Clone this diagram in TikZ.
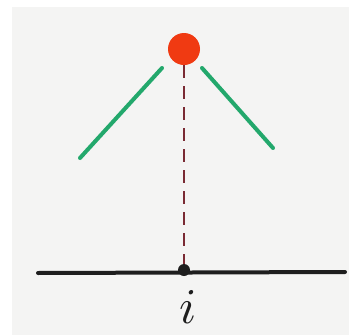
\documentclass[tikz,border=0pt]{standalone}
\usepackage{tikz}
\usetikzlibrary{positioning}
\definecolor{paper}{HTML}{F4F4F3}
\definecolor{bead}{HTML}{F03A12}
\definecolor{arm}{HTML}{23A86C}
\definecolor{drop}{HTML}{7A2A33}
\definecolor{ink}{HTML}{1E1E1E}

\begin{document}
\begin{tikzpicture}[x=1pt,y=-1pt]
  \useasboundingbox (0,0) rectangle (349,335);
  \fill[white] (0,0) rectangle (349,335);
  \fill[paper] (12,7) rectangle (349,335);
  % lattice line and the site below the particle
  \draw[ink,line width=4pt,line cap=round] (38,273)--(345,272);
  \node[circle,fill=ink,inner sep=0pt,minimum size=12pt] (site) at (184,270) {};
  \node[circle,fill=bead,inner sep=0pt,minimum size=32pt] (bead) at (184,49) {};
  \draw[drop,line width=2.5pt,dash pattern=on 13pt off 8pt] (bead.south)--(site.north);
  \draw[arm,line width=4pt,line cap=round] (162,68)--(80,158);
  \draw[arm,line width=4pt,line cap=round] (202,68)--(273,148);
  \node[scale=5,inner sep=0pt,text=ink] (idx) at (188,307) {$i$};
\end{tikzpicture}
\end{document}
